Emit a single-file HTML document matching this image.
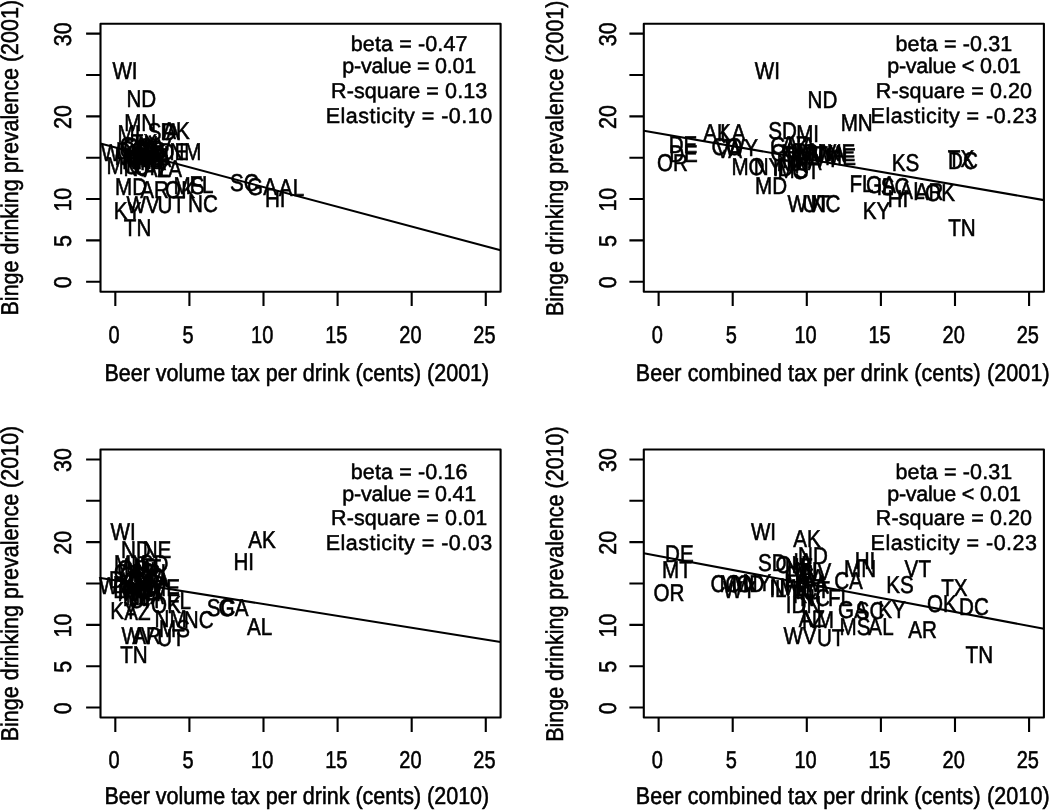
<!DOCTYPE html>
<html><head><meta charset="utf-8"><title>Binge drinking prevalence vs beer tax</title>
<style>html,body{margin:0;padding:0;background:#fff}body{width:1050px;height:810px;overflow:hidden}svg{display:block;will-change:transform;filter:grayscale(1)}text{font-family:"Liberation Sans",sans-serif;font-size:21.5px;fill:#000;stroke:#000;stroke-width:.5px;text-anchor:middle;text-rendering:geometricPrecision}.l{stroke:#000;stroke-width:2.1;fill:none;stroke-linecap:butt;stroke-linejoin:round}</style></head><body>
<svg width="1050" height="810" viewBox="0 0 1050 810">
<rect width="1050" height="810" fill="#fff"/>
<g>
<rect class="l" x="100.5" y="23.7" width="400.1" height="268"/>
<path class="l" d="M115.32 291.7v14.4M189.41 291.7v14.4M263.5 291.7v14.4M337.6 291.7v14.4M411.69 291.7v14.4M485.78 291.7v14.4M100.5 281.77h-14.4M100.5 240.42h-14.4M100.5 199.06h-14.4M100.5 157.7h-14.4M100.5 116.34h-14.4M100.5 74.98h-14.4M100.5 33.63h-14.4"/>
<text transform="translate(114.02 343.3) scale(0.93 1.13)">0</text>
<text transform="translate(188.11 343.3) scale(0.93 1.13)">5</text>
<text transform="translate(262.2 343.3) scale(0.93 1.13)">10</text>
<text transform="translate(336.3 343.3) scale(0.93 1.13)">15</text>
<text transform="translate(410.39 343.3) scale(0.93 1.13)">20</text>
<text transform="translate(484.48 343.3) scale(0.93 1.13)">25</text>
<text transform="translate(70.9 282.37) rotate(-90) scale(1 1.13)">0</text>
<text transform="translate(70.9 241.02) rotate(-90) scale(1 1.13)">5</text>
<text transform="translate(70.9 199.66) rotate(-90) scale(1 1.13)">10</text>
<text transform="translate(70.9 116.94) rotate(-90) scale(1 1.13)">20</text>
<text transform="translate(70.9 34.23) rotate(-90) scale(1 1.13)">30</text>
<text transform="translate(296.85 380.5) scale(1 1.13)">Beer volume tax per drink (cents) (2001)</text>
<text transform="translate(17.8 157.7) rotate(-90) scale(1 1.13)">Binge drinking prevalence (2001)</text>
<path class="l" d="M100.5 143.5L500.6 250.3"/>
<text x="409.2" y="50.5" letter-spacing="0.13">beta = -0.47</text>
<text x="409.2" y="73.4" letter-spacing="-0.23">p-value = 0.01</text>
<text x="409.2" y="98" letter-spacing="0.1">R-square = 0.13</text>
<text x="409.2" y="122.9" letter-spacing="0.47">Elasticity = -0.10</text>
<text transform="translate(125 79) scale(0.96 1.13)">WI</text>
<text transform="translate(141.3 107.1) scale(0.96 1.13)">ND</text>
<text transform="translate(140.2 130.8) scale(0.96 1.13)">MN</text>
<text transform="translate(129 141.9) scale(0.96 1.13)">MI</text>
<text transform="translate(162 139.6) scale(0.96 1.13)">SD</text>
<text transform="translate(170 140.1) scale(0.96 1.13)">IA</text>
<text transform="translate(176 139.3) scale(0.96 1.13)">AK</text>
<text transform="translate(185.5 160.3) scale(0.96 1.13)">NM</text>
<text transform="translate(174 160.1) scale(0.96 1.13)">DE</text>
<text transform="translate(117.5 161.1) scale(0.96 1.13)">WY</text>
<text transform="translate(123 174.1) scale(0.96 1.13)">MO</text>
<text transform="translate(169.5 177.1) scale(0.96 1.13)">LA</text>
<text transform="translate(157 177.1) scale(0.96 1.13)">AZ</text>
<text transform="translate(131 194.9) scale(0.96 1.13)">MD</text>
<text transform="translate(154.5 197.9) scale(0.96 1.13)">AR</text>
<text transform="translate(180 197.9) scale(0.96 1.13)">OK</text>
<text transform="translate(189 193.6) scale(0.96 1.13)">MS</text>
<text transform="translate(201.5 193.1) scale(0.96 1.13)">FL</text>
<text transform="translate(127.5 219.3) scale(0.96 1.13)">KY</text>
<text transform="translate(143 213) scale(0.96 1.13)">WV</text>
<text transform="translate(171.3 213) scale(0.96 1.13)">UT</text>
<text transform="translate(203 211.9) scale(0.96 1.13)">NC</text>
<text transform="translate(137.6 236) scale(0.96 1.13)">TN</text>
<text transform="translate(244.4 190.8) scale(0.96 1.13)">SC</text>
<text transform="translate(262 194.6) scale(0.96 1.13)">GA</text>
<text transform="translate(291.5 196) scale(0.96 1.13)">AL</text>
<text transform="translate(275.2 206.7) scale(0.96 1.13)">HI</text>
<text transform="translate(134 153.6) scale(0.96 1.13)">CA</text>
<text transform="translate(139 154.6) scale(0.96 1.13)">CO</text>
<text transform="translate(146 156.6) scale(0.96 1.13)">CT</text>
<text transform="translate(131 158.6) scale(0.96 1.13)">DC</text>
<text transform="translate(141 160.6) scale(0.96 1.13)">ID</text>
<text transform="translate(136 162.6) scale(0.96 1.13)">IL</text>
<text transform="translate(148 152.6) scale(0.96 1.13)">IN</text>
<text transform="translate(152 158.6) scale(0.96 1.13)">KS</text>
<text transform="translate(130 164.6) scale(0.96 1.13)">MA</text>
<text transform="translate(154 164.6) scale(0.96 1.13)">ME</text>
<text transform="translate(143 166.6) scale(0.96 1.13)">MT</text>
<text transform="translate(150 168.6) scale(0.96 1.13)">NE</text>
<text transform="translate(137 168.6) scale(0.96 1.13)">NH</text>
<text transform="translate(136 175.6) scale(0.96 1.13)">NJ</text>
<text transform="translate(157 155.6) scale(0.96 1.13)">NV</text>
<text transform="translate(140 171.6) scale(0.96 1.13)">NY</text>
<text transform="translate(149 175.1) scale(0.96 1.13)">OH</text>
<text transform="translate(135 157.6) scale(0.96 1.13)">OR</text>
<text transform="translate(153 169.6) scale(0.96 1.13)">PA</text>
<text transform="translate(159 162.6) scale(0.96 1.13)">RI</text>
<text transform="translate(144 150.6) scale(0.96 1.13)">TX</text>
<text transform="translate(138 164.6) scale(0.96 1.13)">VA</text>
<text transform="translate(150 161.6) scale(0.96 1.13)">VT</text>
<text transform="translate(155 166.6) scale(0.96 1.13)">WA</text>
</g>
<g>
<rect class="l" x="643.8" y="23.7" width="400.1" height="268"/>
<path class="l" d="M658.62 291.7v14.4M732.71 291.7v14.4M806.8 291.7v14.4M880.9 291.7v14.4M954.99 291.7v14.4M1029.08 291.7v14.4M643.8 281.77h-14.4M643.8 240.42h-14.4M643.8 199.06h-14.4M643.8 157.7h-14.4M643.8 116.34h-14.4M643.8 74.98h-14.4M643.8 33.63h-14.4"/>
<text transform="translate(657.32 343.3) scale(0.93 1.13)">0</text>
<text transform="translate(731.41 343.3) scale(0.93 1.13)">5</text>
<text transform="translate(805.5 343.3) scale(0.93 1.13)">10</text>
<text transform="translate(879.6 343.3) scale(0.93 1.13)">15</text>
<text transform="translate(953.69 343.3) scale(0.93 1.13)">20</text>
<text transform="translate(1027.78 343.3) scale(0.93 1.13)">25</text>
<text transform="translate(616.2 282.37) rotate(-90) scale(1 1.13)">0</text>
<text transform="translate(616.2 241.02) rotate(-90) scale(1 1.13)">5</text>
<text transform="translate(616.2 199.66) rotate(-90) scale(1 1.13)">10</text>
<text transform="translate(616.2 116.94) rotate(-90) scale(1 1.13)">20</text>
<text transform="translate(616.2 34.23) rotate(-90) scale(1 1.13)">30</text>
<text transform="translate(842.75 380.5) scale(1 1.13)" letter-spacing="0.13">Beer combined tax per drink (cents) (2001)</text>
<text transform="translate(563.1 158.3) rotate(-90) scale(1 1.13)">Binge drinking prevalence (2001)</text>
<path class="l" d="M643.8 130.8L1043.9 200.1"/>
<text x="954" y="50.5" letter-spacing="0.13">beta = -0.31</text>
<text x="954" y="73.4" letter-spacing="-0.23">p-value &lt; 0.01</text>
<text x="954" y="98" letter-spacing="0.1">R-square = 0.20</text>
<text x="954" y="122.9" letter-spacing="0.47">Elasticity = -0.23</text>
<text transform="translate(767.3 78.6) scale(0.96 1.13)">WI</text>
<text transform="translate(822.5 107.6) scale(0.96 1.13)">ND</text>
<text transform="translate(856.7 130.5) scale(0.96 1.13)">MN</text>
<text transform="translate(782.5 138.6) scale(0.96 1.13)">SD</text>
<text transform="translate(807.6 142.1) scale(0.96 1.13)">MI</text>
<text transform="translate(672.4 170.8) scale(0.96 1.13)">OR</text>
<text transform="translate(683 153.4) scale(0.96 1.13)">DE</text>
<text transform="translate(683.5 162.4) scale(0.96 1.13)">DE</text>
<text transform="translate(717 140.6) scale(0.96 1.13)">AK</text>
<text transform="translate(733 141.1) scale(0.96 1.13)">LA</text>
<text transform="translate(727 154.6) scale(0.96 1.13)">CO</text>
<text transform="translate(741.5 156.1) scale(0.96 1.13)">WY</text>
<text transform="translate(729 157.6) scale(0.96 1.13)">VA</text>
<text transform="translate(748 174.6) scale(0.96 1.13)">MO</text>
<text transform="translate(768 174.6) scale(0.96 1.13)">NY</text>
<text transform="translate(771 194.1) scale(0.96 1.13)">MD</text>
<text transform="translate(804 212.3) scale(0.96 1.13)">WV</text>
<text transform="translate(816 212.1) scale(0.96 1.13)">UT</text>
<text transform="translate(825.5 212.1) scale(0.96 1.13)">NC</text>
<text transform="translate(861.5 192.3) scale(0.96 1.13)">FL</text>
<text transform="translate(881 192.6) scale(0.96 1.13)">GA</text>
<text transform="translate(885 195.1) scale(0.96 1.13)">IL</text>
<text transform="translate(895 194.6) scale(0.96 1.13)">SC</text>
<text transform="translate(912 198.6) scale(0.96 1.13)">AL</text>
<text transform="translate(929 200.1) scale(0.96 1.13)">AR</text>
<text transform="translate(940 200.6) scale(0.96 1.13)">OK</text>
<text transform="translate(897.8 206.9) scale(0.96 1.13)">HI</text>
<text transform="translate(876.5 219.1) scale(0.96 1.13)">KY</text>
<text transform="translate(961.9 235.6) scale(0.96 1.13)">TN</text>
<text transform="translate(905.6 171.2) scale(0.96 1.13)">KS</text>
<text transform="translate(961 167.1) scale(0.96 1.13)">TX</text>
<text transform="translate(963 169.1) scale(0.96 1.13)">DC</text>
<text transform="translate(784.5 153.6) scale(0.96 1.13)">CA</text>
<text transform="translate(795 153.1) scale(0.96 1.13)">AZ</text>
<text transform="translate(805.5 154.1) scale(0.96 1.13)">IA</text>
<text transform="translate(786 160.6) scale(0.96 1.13)">OH</text>
<text transform="translate(797 161.1) scale(0.96 1.13)">NM</text>
<text transform="translate(806 160.1) scale(0.96 1.13)">PA</text>
<text transform="translate(814 161.1) scale(0.96 1.13)">RI</text>
<text transform="translate(822 160.6) scale(0.96 1.13)">NV</text>
<text transform="translate(829 161.6) scale(0.96 1.13)">WA</text>
<text transform="translate(841 160.6) scale(0.96 1.13)">NE</text>
<text transform="translate(840.5 165.1) scale(0.96 1.13)">ME</text>
<text transform="translate(789 170.6) scale(0.96 1.13)">NJ</text>
<text transform="translate(799 172.6) scale(0.96 1.13)">IN</text>
<text transform="translate(806 169.6) scale(0.96 1.13)">MA</text>
<text transform="translate(826 167.1) scale(0.96 1.13)">VT</text>
<text transform="translate(783 175.6) scale(0.96 1.13)">ID</text>
<text transform="translate(793 177.6) scale(0.96 1.13)">MS</text>
<text transform="translate(806 179.1) scale(0.96 1.13)">CT</text>
<text transform="translate(797 167.6) scale(0.96 1.13)">NH</text>
<text transform="translate(813 163.1) scale(0.96 1.13)">MT</text>
</g>
<g>
<rect class="l" x="100.5" y="449.5" width="400.1" height="268"/>
<path class="l" d="M115.32 717.5v14.4M189.41 717.5v14.4M263.5 717.5v14.4M337.6 717.5v14.4M411.69 717.5v14.4M485.78 717.5v14.4M100.5 707.57h-14.4M100.5 666.22h-14.4M100.5 624.86h-14.4M100.5 583.5h-14.4M100.5 542.14h-14.4M100.5 500.78h-14.4M100.5 459.43h-14.4"/>
<text transform="translate(114.02 768.1) scale(0.93 1.13)">0</text>
<text transform="translate(188.11 768.1) scale(0.93 1.13)">5</text>
<text transform="translate(262.2 768.1) scale(0.93 1.13)">10</text>
<text transform="translate(336.3 768.1) scale(0.93 1.13)">15</text>
<text transform="translate(410.39 768.1) scale(0.93 1.13)">20</text>
<text transform="translate(484.48 768.1) scale(0.93 1.13)">25</text>
<text transform="translate(70.9 708.17) rotate(-90) scale(1 1.13)">0</text>
<text transform="translate(70.9 666.82) rotate(-90) scale(1 1.13)">5</text>
<text transform="translate(70.9 625.46) rotate(-90) scale(1 1.13)">10</text>
<text transform="translate(70.9 542.74) rotate(-90) scale(1 1.13)">20</text>
<text transform="translate(70.9 460.03) rotate(-90) scale(1 1.13)">30</text>
<text transform="translate(296.85 804) scale(1 1.13)">Beer volume tax per drink (cents) (2010)</text>
<text transform="translate(17.8 583.5) rotate(-90) scale(1 1.13)">Binge drinking prevalence (2010)</text>
<path class="l" d="M100.5 578L500.6 642"/>
<text x="409.2" y="478.5" letter-spacing="0.13">beta = -0.16</text>
<text x="409.2" y="501.1" letter-spacing="-0.23">p-value = 0.41</text>
<text x="409.2" y="525.3" letter-spacing="0.1">R-square = 0.01</text>
<text x="409.2" y="549.7" letter-spacing="0.47">Elasticity = -0.03</text>
<text transform="translate(123.1 539.7) scale(0.96 1.13)">WI</text>
<text transform="translate(136 558.2) scale(0.96 1.13)">ND</text>
<text transform="translate(157 558.2) scale(0.96 1.13)">NE</text>
<text transform="translate(130 571.6) scale(0.96 1.13)">MN</text>
<text transform="translate(154 571.6) scale(0.96 1.13)">SD</text>
<text transform="translate(158 586.6) scale(0.96 1.13)">IA</text>
<text transform="translate(164.5 596.1) scale(0.96 1.13)">ME</text>
<text transform="translate(115.6 594.1) scale(0.96 1.13)">WY</text>
<text transform="translate(166 612.9) scale(0.96 1.13)">OK</text>
<text transform="translate(179 609.1) scale(0.96 1.13)">FL</text>
<text transform="translate(124 619.4) scale(0.96 1.13)">KY</text>
<text transform="translate(137.5 620.4) scale(0.96 1.13)">AZ</text>
<text transform="translate(170.6 626.8) scale(0.96 1.13)">NM</text>
<text transform="translate(198.7 628.1) scale(0.96 1.13)">NC</text>
<text transform="translate(221 616.4) scale(0.96 1.13)">SC</text>
<text transform="translate(233.5 616.4) scale(0.96 1.13)">GA</text>
<text transform="translate(259.6 635.3) scale(0.96 1.13)">AL</text>
<text transform="translate(261.9 547.9) scale(0.96 1.13)">AK</text>
<text transform="translate(243.7 569.7) scale(0.96 1.13)">HI</text>
<text transform="translate(138 643.8) scale(0.96 1.13)">WV</text>
<text transform="translate(146.5 643.6) scale(0.96 1.13)">AR</text>
<text transform="translate(171 645.6) scale(0.96 1.13)">UT</text>
<text transform="translate(174.5 637.1) scale(0.96 1.13)">MS</text>
<text transform="translate(134 663.4) scale(0.96 1.13)">TN</text>
<text transform="translate(128 580.6) scale(0.96 1.13)">CA</text>
<text transform="translate(135 583.6) scale(0.96 1.13)">CO</text>
<text transform="translate(142 586.6) scale(0.96 1.13)">CT</text>
<text transform="translate(124 587.6) scale(0.96 1.13)">DC</text>
<text transform="translate(138 590.6) scale(0.96 1.13)">ID</text>
<text transform="translate(131 593.6) scale(0.96 1.13)">IL</text>
<text transform="translate(145 578.6) scale(0.96 1.13)">IN</text>
<text transform="translate(150 584.6) scale(0.96 1.13)">KS</text>
<text transform="translate(126 597.6) scale(0.96 1.13)">LA</text>
<text transform="translate(133 600.6) scale(0.96 1.13)">MA</text>
<text transform="translate(141 596.6) scale(0.96 1.13)">MD</text>
<text transform="translate(148 592.6) scale(0.96 1.13)">MI</text>
<text transform="translate(135 598.6) scale(0.96 1.13)">MO</text>
<text transform="translate(139 574.6) scale(0.96 1.13)">MT</text>
<text transform="translate(146 600.6) scale(0.96 1.13)">NH</text>
<text transform="translate(138 604.6) scale(0.96 1.13)">NJ</text>
<text transform="translate(153 596.6) scale(0.96 1.13)">NV</text>
<text transform="translate(137 605.6) scale(0.96 1.13)">NY</text>
<text transform="translate(144 607.6) scale(0.96 1.13)">OH</text>
<text transform="translate(133 576.6) scale(0.96 1.13)">OR</text>
<text transform="translate(151 603.6) scale(0.96 1.13)">PA</text>
<text transform="translate(156 580.6) scale(0.96 1.13)">RI</text>
<text transform="translate(142 581.6) scale(0.96 1.13)">TX</text>
<text transform="translate(135 588.6) scale(0.96 1.13)">VA</text>
<text transform="translate(148 575.6) scale(0.96 1.13)">VT</text>
<text transform="translate(154 589.6) scale(0.96 1.13)">WA</text>
<text transform="translate(127 592.6) scale(0.96 1.13)">DE</text>
</g>
<g>
<rect class="l" x="643.8" y="449.5" width="400.1" height="268"/>
<path class="l" d="M658.62 717.5v14.4M732.71 717.5v14.4M806.8 717.5v14.4M880.9 717.5v14.4M954.99 717.5v14.4M1029.08 717.5v14.4M643.8 707.57h-14.4M643.8 666.22h-14.4M643.8 624.86h-14.4M643.8 583.5h-14.4M643.8 542.14h-14.4M643.8 500.78h-14.4M643.8 459.43h-14.4"/>
<text transform="translate(657.32 768.1) scale(0.93 1.13)">0</text>
<text transform="translate(731.41 768.1) scale(0.93 1.13)">5</text>
<text transform="translate(805.5 768.1) scale(0.93 1.13)">10</text>
<text transform="translate(879.6 768.1) scale(0.93 1.13)">15</text>
<text transform="translate(953.69 768.1) scale(0.93 1.13)">20</text>
<text transform="translate(1027.78 768.1) scale(0.93 1.13)">25</text>
<text transform="translate(616.2 708.17) rotate(-90) scale(1 1.13)">0</text>
<text transform="translate(616.2 666.82) rotate(-90) scale(1 1.13)">5</text>
<text transform="translate(616.2 625.46) rotate(-90) scale(1 1.13)">10</text>
<text transform="translate(616.2 542.74) rotate(-90) scale(1 1.13)">20</text>
<text transform="translate(616.2 460.03) rotate(-90) scale(1 1.13)">30</text>
<text transform="translate(842.75 804) scale(1 1.13)" letter-spacing="0.13">Beer combined tax per drink (cents) (2010)</text>
<text transform="translate(563.1 584.1) rotate(-90) scale(1 1.13)">Binge drinking prevalence (2010)</text>
<path class="l" d="M643.8 553.2L1043.9 628.8"/>
<text x="954" y="478.5" letter-spacing="0.13">beta = -0.31</text>
<text x="954" y="501.1" letter-spacing="-0.23">p-value &lt; 0.01</text>
<text x="954" y="525.3" letter-spacing="0.1">R-square = 0.20</text>
<text x="954" y="549.7" letter-spacing="0.47">Elasticity = -0.23</text>
<text transform="translate(763.5 539.7) scale(0.96 1.13)">WI</text>
<text transform="translate(807 547.1) scale(0.96 1.13)">AK</text>
<text transform="translate(813 564.1) scale(0.96 1.13)">ND</text>
<text transform="translate(865 569) scale(0.96 1.13)">HI</text>
<text transform="translate(860 576.6) scale(0.96 1.13)">MN</text>
<text transform="translate(848.5 589.3) scale(0.96 1.13)">CA</text>
<text transform="translate(900 593.4) scale(0.96 1.13)">KS</text>
<text transform="translate(917.8 576.6) scale(0.96 1.13)">VT</text>
<text transform="translate(840 605.9) scale(0.96 1.13)">FL</text>
<text transform="translate(853 618.1) scale(0.96 1.13)">GA</text>
<text transform="translate(870 618.6) scale(0.96 1.13)">SC</text>
<text transform="translate(892 618.1) scale(0.96 1.13)">KY</text>
<text transform="translate(855 634.8) scale(0.96 1.13)">MS</text>
<text transform="translate(881 635.1) scale(0.96 1.13)">AL</text>
<text transform="translate(812 627.1) scale(0.96 1.13)">AZ</text>
<text transform="translate(818 627.6) scale(0.96 1.13)">NM</text>
<text transform="translate(800 643.8) scale(0.96 1.13)">WV</text>
<text transform="translate(830.7 646.1) scale(0.96 1.13)">UT</text>
<text transform="translate(922.6 638.2) scale(0.96 1.13)">AR</text>
<text transform="translate(954.4 596) scale(0.96 1.13)">TX</text>
<text transform="translate(941.8 611.6) scale(0.96 1.13)">OK</text>
<text transform="translate(974 614.6) scale(0.96 1.13)">DC</text>
<text transform="translate(979.3 662.6) scale(0.96 1.13)">TN</text>
<text transform="translate(679.4 562.3) scale(0.96 1.13)">DE</text>
<text transform="translate(676.9 578.2) scale(0.96 1.13)">MT</text>
<text transform="translate(669 600.5) scale(0.96 1.13)">OR</text>
<text transform="translate(726 591.6) scale(0.96 1.13)">CO</text>
<text transform="translate(736 592.1) scale(0.96 1.13)">MO</text>
<text transform="translate(748 591.6) scale(0.96 1.13)">MD</text>
<text transform="translate(757 591.1) scale(0.96 1.13)">NY</text>
<text transform="translate(739.5 597.6) scale(0.96 1.13)">WY</text>
<text transform="translate(772.4 571.2) scale(0.96 1.13)">SD</text>
<text transform="translate(796 612.6) scale(0.96 1.13)">ID</text>
<text transform="translate(811 613.1) scale(0.96 1.13)">IN</text>
<text transform="translate(817 579.6) scale(0.96 1.13)">NV</text>
<text transform="translate(803 569.6) scale(0.96 1.13)">IA</text>
<text transform="translate(799 574.6) scale(0.96 1.13)">NE</text>
<text transform="translate(806 578.6) scale(0.96 1.13)">MI</text>
<text transform="translate(800 582.6) scale(0.96 1.13)">PA</text>
<text transform="translate(791 573.1) scale(0.96 1.13)">OH</text>
<text transform="translate(801 590.6) scale(0.96 1.13)">MA</text>
<text transform="translate(812 591.6) scale(0.96 1.13)">WA</text>
<text transform="translate(795 595.6) scale(0.96 1.13)">ME</text>
<text transform="translate(785 595.1) scale(0.96 1.13)">NH</text>
<text transform="translate(778 597.1) scale(0.96 1.13)">IL</text>
<text transform="translate(808 598.6) scale(0.96 1.13)">NJ</text>
<text transform="translate(803 602.6) scale(0.96 1.13)">RI</text>
<text transform="translate(812 585.6) scale(0.96 1.13)">VA</text>
<text transform="translate(816 597.6) scale(0.96 1.13)">CT</text>
<text transform="translate(797 586.6) scale(0.96 1.13)">LA</text>
<text transform="translate(815 605.6) scale(0.96 1.13)">NC</text>
</g>
</svg></body></html>
